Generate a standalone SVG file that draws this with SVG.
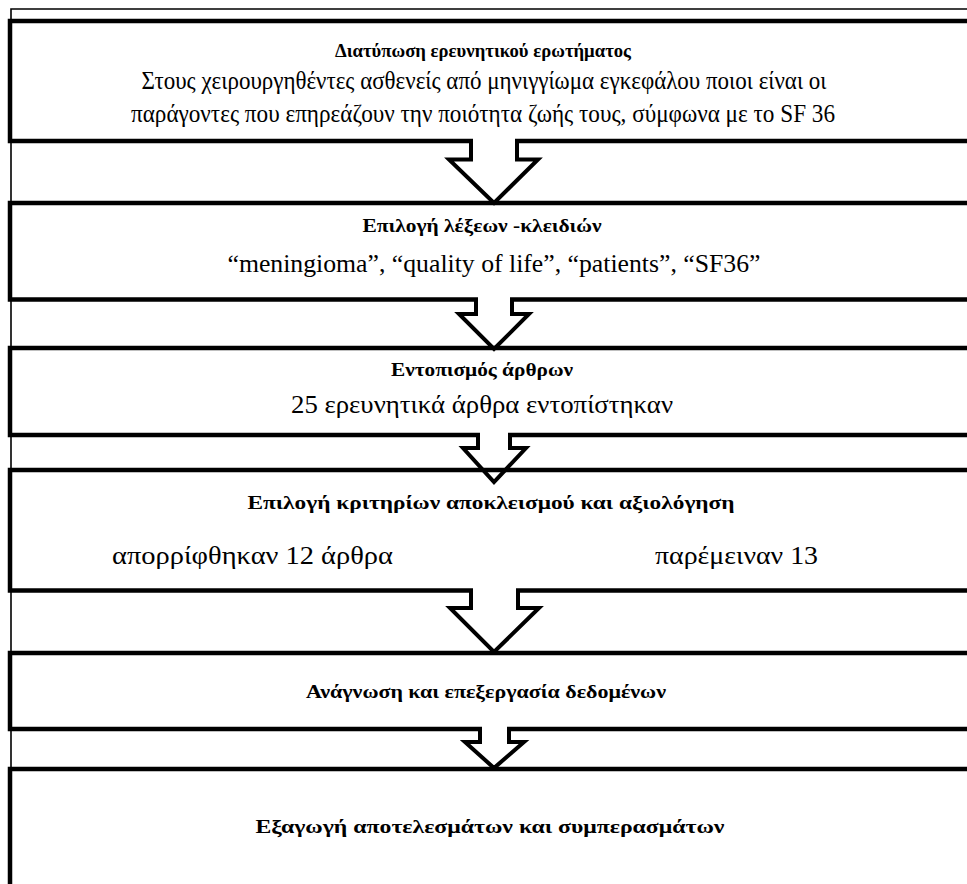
<svg xmlns="http://www.w3.org/2000/svg" width="967" height="884" viewBox="0 0 967 884">
<style>
.frame{fill:none;stroke:#000;stroke-width:1.6}
.box{fill:none;stroke:#000;stroke-width:4.5}
.arr{fill:none;stroke:#000;stroke-width:4;stroke-linejoin:miter}
.gap{fill:#fff;stroke:none}
.t{font-family:"Liberation Serif","DejaVu Serif",serif;font-weight:bold;font-size:18px;text-anchor:middle;fill:#000}
.b{font-family:"Liberation Serif","DejaVu Serif",serif;font-size:26px;text-anchor:middle;fill:#000}
.bl{font-family:"Liberation Serif","DejaVu Serif",serif;font-size:26px;fill:#000}
</style>
<rect width="967" height="884" fill="#fff"/>
<path class="frame" d="M11,900 V9 H980"/>
<g id="n1">
<rect class="box" x="10" y="21" width="990" height="120"/>
<text class="t" x="483" y="57" textLength="296" lengthAdjust="spacingAndGlyphs">Διατύπωση ερευνητικού ερωτήματος</text>
<text class="b" x="484" y="89" textLength="685" lengthAdjust="spacingAndGlyphs">Στους χειρουργηθέντες ασθενείς από μηνιγγίωμα εγκεφάλου ποιοι είναι οι</text>
<text class="b" x="483" y="122" textLength="704" lengthAdjust="spacingAndGlyphs">παράγοντες που επηρεάζουν  την ποιότητα ζωής τους, σύμφωνα με το SF 36</text>
</g>
<g id="n2">
<rect class="box" x="10" y="203" width="990" height="96.5"/>
<text class="t" x="482" y="232" textLength="239" lengthAdjust="spacingAndGlyphs">Επιλογή λέξεων -κλειδιών</text>
<text class="b" x="494" y="272" textLength="533" lengthAdjust="spacingAndGlyphs">“meningioma”, “quality of life”, “patients”, “SF36”</text>
</g>
<g id="n3">
<rect class="box" x="10" y="348" width="990" height="87"/>
<text class="t" x="482" y="376" textLength="182" lengthAdjust="spacingAndGlyphs">Εντοπισμός άρθρων</text>
<text class="b" x="482" y="413" textLength="382" lengthAdjust="spacingAndGlyphs">25 ερευνητικά άρθρα εντοπίστηκαν</text>
</g>
<g id="n4">
<rect class="box" x="10" y="470" width="990" height="120.5"/>
<text class="t" x="491" y="509" textLength="487" lengthAdjust="spacingAndGlyphs">Επιλογή κριτηρίων αποκλεισμού και αξιολόγηση</text>
<text class="bl" x="112" y="564" textLength="281" lengthAdjust="spacingAndGlyphs">απορρίφθηκαν 12 άρθρα</text>
<text class="bl" x="655" y="564" textLength="163" lengthAdjust="spacingAndGlyphs">παρέμειναν 13</text>
</g>
<g id="n5">
<rect class="box" x="10" y="653" width="990" height="76"/>
<text class="t" x="486" y="698" textLength="360" lengthAdjust="spacingAndGlyphs">Ανάγνωση και επεξεργασία δεδομένων</text>
</g>
<g id="n6">
<rect class="box" x="10" y="769" width="990" height="200"/>
<text class="t" x="490" y="833" textLength="469" lengthAdjust="spacingAndGlyphs">Εξαγωγή αποτελεσμάτων και συμπερασμάτων</text>
</g>
<g id="connectors">
<rect class="gap" x="473" y="137" width="42" height="8"/>
<path class="arr" d="M471,139 V159.5 H449 L494,203 L538,159.5 H517 V139"/>
<rect class="gap" x="478" y="296" width="32" height="8"/>
<path class="arr" d="M476,298 V314 H459 L494,349 L529,314 H512 V298"/>
<rect class="gap" x="480" y="432" width="28" height="8"/>
<path class="arr" d="M478,434 V448 H463 L494,482 L526,448 H510 V434"/>
<rect class="gap" x="473" y="587" width="43" height="8"/>
<path class="arr" d="M471,589 V608 H450 L494,652 L539,608 H518 V589"/>
<rect class="gap" x="482" y="726" width="25" height="8"/>
<path class="arr" d="M480,728 V742 H465 L494,768 L524,742 H509 V728"/>
</g>
</svg>
